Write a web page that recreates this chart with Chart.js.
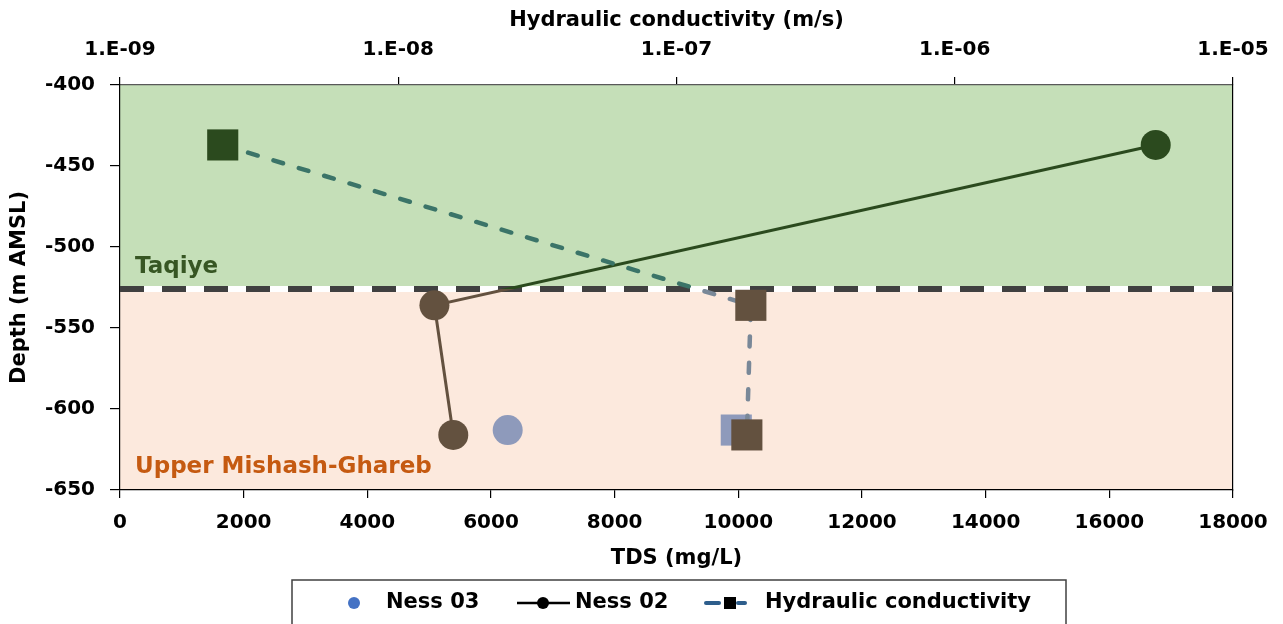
<!DOCTYPE html>
<html>
<head>
<meta charset="utf-8">
<script src="https://cdn.jsdelivr.net/npm/chart.js@4.4.1/dist/chart.umd.min.js"></script>
<style>
  html, body { margin: 0; padding: 0; background: #ffffff; }
  #wrap { width: 1283px; height: 624px; position: relative; }
</style>
</head>
<body>
<div id="wrap"><canvas id="chart" width="1283" height="624"></canvas></div>
<script>
// Well Ness 02: TDS profile with depth
const ness02Tds = [16750, 5085, 5390];
const ness02Depth = [-437, -536, -616];

// Well Ness 03: single TDS sample and its hydraulic conductivity
const ness03Tds = [6270];
const ness03Depth = [-613];
const ness03K = [1.64e-7];

// Hydraulic conductivity profile (m/s)
const kValues = [2.34e-9, 1.85e-7, 1.79e-7];
const kDepth = [-437, -536, -616];

// Formation boundary and axis ticks
const formations = ['Taqiye', 'Upper Mishash-Ghareb'];
const boundaryDepth = -526;
const depthRange = [-650, -400];
const tdsRange = [0, 18000];
const kTickValues = [1e-9, 1e-8, 1e-7, 1e-6, 1e-5];
const kTickLabels = ['1.E-09', '1.E-08', '1.E-07', '1.E-06', '1.E-05'];
const legendLabels = ['Ness 03', 'Ness 02', 'Hydraulic conductivity'];

const FONT = "'DejaVu Sans', 'Liberation Sans', sans-serif";
Chart.defaults.font.family = FONT;
Chart.defaults.color = '#000';

const C = {
  green: '#c5dfb8',
  salmon: '#fce9dd',
  darkGreen: '#2b4a1e',
  brown: '#63513f',
  kAbove: '#3b7468',
  kBelow: '#798898',
  ness03: '#8e9abb',
  boundary: '#404040',
  taqiyeText: '#375623',
  mishashText: '#c55a11'
};

const pts = (xs, ys) => xs.map((x, i) => ({ x: x, y: ys[i] }));

// Formation backgrounds (under the axes) and labels
const zonePlugin = {
  id: 'zones',
  beforeDraw(chart) {
    const { ctx, chartArea: a, scales } = chart;
    const y = scales.y;
    const yTop = y.getPixelForValue(depthRange[1]);
    const yB = y.getPixelForValue(boundaryDepth);
    const yBot = y.getPixelForValue(depthRange[0]);
    ctx.save();
    ctx.fillStyle = C.green;
    ctx.fillRect(a.left, yTop, a.right - a.left, yB - yTop);
    ctx.fillStyle = C.salmon;
    ctx.fillRect(a.left, yB, a.right - a.left, yBot - yB);
    ctx.restore();
  },
  beforeDatasetsDraw(chart) {
    const { ctx, chartArea: a, scales } = chart;
    const y = scales.y;
    const yB = y.getPixelForValue(boundaryDepth);
    const yBot = y.getPixelForValue(depthRange[0]);
    ctx.save();
    ctx.font = 'bold 23px ' + FONT;
    ctx.textBaseline = 'alphabetic';
    ctx.textAlign = 'left';
    ctx.fillStyle = C.taqiyeText;
    ctx.fillText(formations[0], a.left + 15, yB - 16);
    ctx.fillStyle = C.mishashText;
    ctx.fillText(formations[1], a.left + 15, yBot - 17);
    ctx.restore();
  }
};

// Colour each profile by formation: clip to the part above or below the boundary
const clipPlugin = {
  id: 'zoneClip',
  beforeDatasetDraw(chart, args) {
    const ds = chart.data.datasets[args.index];
    if (!ds.zone) return;
    const { ctx, chartArea: a } = chart;
    const yB = chart.scales.y.getPixelForValue(boundaryDepth);
    ctx.save();
    ctx.beginPath();
    if (ds.zone === 'above') ctx.rect(a.left - 30, a.top - 30, a.right - a.left + 60, yB - a.top + 30);
    else ctx.rect(a.left - 30, yB, a.right - a.left + 60, a.bottom - yB + 30);
    ctx.clip();
  },
  afterDatasetDraw(chart, args) {
    const ds = chart.data.datasets[args.index];
    if (!ds.zone) return;
    chart.ctx.restore();
  }
};

// Boxed legend below the plot
const legendPlugin = {
  id: 'boxLegend',
  afterDraw(chart) {
    const ctx = chart.ctx;
    const cy = 603;
    ctx.save();
    ctx.strokeStyle = '#404040';
    ctx.lineWidth = 1.5;
    ctx.strokeRect(292, 580, 774, 60);

    ctx.font = 'bold 21px ' + FONT;
    ctx.fillStyle = '#000';
    ctx.textBaseline = 'middle';
    ctx.textAlign = 'left';

    // Ness 03
    ctx.fillStyle = '#4472c4';
    ctx.beginPath(); ctx.arc(354, cy, 6, 0, Math.PI * 2); ctx.fill();
    ctx.fillStyle = '#000';
    ctx.fillText(legendLabels[0], 386, cy);

    // Ness 02
    ctx.strokeStyle = '#000';
    ctx.lineWidth = 2.5;
    ctx.beginPath(); ctx.moveTo(517, cy); ctx.lineTo(570, cy); ctx.stroke();
    ctx.beginPath(); ctx.arc(543, cy, 6, 0, Math.PI * 2); ctx.fill();
    ctx.fillText(legendLabels[1], 575, cy);

    // Hydraulic conductivity
    ctx.strokeStyle = '#2e5e8c';
    ctx.lineWidth = 4;
    ctx.lineCap = 'round';
    ctx.beginPath(); ctx.moveTo(706, cy); ctx.lineTo(719, cy); ctx.stroke();
    ctx.beginPath(); ctx.moveTo(738, cy); ctx.lineTo(745, cy); ctx.stroke();
    ctx.fillStyle = '#000';
    ctx.fillRect(724, cy - 6, 12, 12);
    ctx.fillText(legendLabels[2], 765, cy);
    ctx.restore();
  }
};

const tickFont = { family: FONT, size: 20, weight: 'bold' };
const titleFont = { family: FONT, size: 21, weight: 'bold' };

const noPad = (s) => { s.paddingLeft = 0; s.paddingRight = 0; s.paddingTop = 0; s.paddingBottom = 0; };

new Chart(document.getElementById('chart'), {
  type: 'scatter',
  data: {
    datasets: [
      {
        label: 'Hydraulic conductivity',
        zone: 'below',
        data: pts(kValues, kDepth),
        xAxisID: 'xTop', yAxisID: 'y',
        showLine: true,
        borderColor: C.kBelow, borderWidth: 4.5, borderDash: [10, 16.5], borderCapStyle: 'round',
        pointStyle: 'rect', pointRadius: 22, pointHoverRadius: 22,
        pointBackgroundColor: C.brown, pointBorderColor: C.brown, pointBorderWidth: 0
      },
      {
        label: 'Hydraulic conductivity',
        zone: 'above',
        data: pts(kValues, kDepth),
        xAxisID: 'xTop', yAxisID: 'y',
        showLine: true,
        borderColor: C.kAbove, borderWidth: 4.5, borderDash: [10, 16.5], borderCapStyle: 'round',
        pointStyle: 'rect', pointRadius: 22, pointHoverRadius: 22,
        pointBackgroundColor: C.darkGreen, pointBorderColor: C.darkGreen, pointBorderWidth: 0
      },
      {
        label: 'Ness 03',
        data: pts(ness03K, ness03Depth),
        xAxisID: 'xTop', yAxisID: 'y',
        pointStyle: 'rect', pointRadius: 22, pointHoverRadius: 22,
        pointBackgroundColor: C.ness03, pointBorderColor: C.ness03, pointBorderWidth: 0
      },
      {
        label: 'Ness 02',
        zone: 'above',
        data: pts(ness02Tds, ness02Depth),
        xAxisID: 'x', yAxisID: 'y',
        showLine: true,
        borderColor: C.darkGreen, borderWidth: 3,
        pointRadius: 15, pointHoverRadius: 15,
        pointBackgroundColor: C.darkGreen, pointBorderColor: C.darkGreen, pointBorderWidth: 0
      },
      {
        label: 'Ness 02',
        zone: 'below',
        data: pts(ness02Tds, ness02Depth),
        xAxisID: 'x', yAxisID: 'y',
        showLine: true,
        borderColor: C.brown, borderWidth: 3,
        pointRadius: 15, pointHoverRadius: 15,
        pointBackgroundColor: C.brown, pointBorderColor: C.brown, pointBorderWidth: 0
      },
      {
        label: 'Ness 03',
        data: pts(ness03Tds, ness03Depth),
        xAxisID: 'x', yAxisID: 'y',
        pointRadius: 15, pointHoverRadius: 15,
        pointBackgroundColor: C.ness03, pointBorderColor: C.ness03, pointBorderWidth: 0
      },
      {
        label: 'boundary',
        data: pts(tdsRange, [boundaryDepth, boundaryDepth]),
        xAxisID: 'x', yAxisID: 'y',
        showLine: true, pointRadius: 0,
        borderColor: C.boundary, borderWidth: 6, borderDash: [24, 18], borderCapStyle: 'butt'
      },
      {
        label: 'boundary-base',
        data: pts(tdsRange, [boundaryDepth, boundaryDepth]),
        xAxisID: 'x', yAxisID: 'y',
        showLine: true, pointRadius: 0,
        borderColor: '#ffffff', borderWidth: 6, borderCapStyle: 'butt'
      }
    ]
  },
  options: {
    responsive: false,
    animation: false,
    devicePixelRatio: 1,
    layout: { padding: { left: 0, right: 50, top: 0, bottom: 0 } },
    plugins: {
      legend: { display: false },
      tooltip: { enabled: false }
    },
    scales: {
      x: {
        type: 'linear', position: 'bottom',
        min: tdsRange[0], max: tdsRange[1],
        ticks: { stepSize: 2000, font: tickFont, color: '#000', padding: 13, maxRotation: 0, callback: (v) => String(v) },
        grid: { drawOnChartArea: false, drawTicks: true, tickLength: 8, color: '#000', lineWidth: 1.2 },
        border: { display: true, color: '#000', width: 1.2 },
        title: { display: true, text: 'TDS (mg/L)', font: titleFont, color: '#000', padding: { top: 0, bottom: 53 } },
        afterFit: (s) => { s.height = 134; noPad(s); }
      },
      xTop: {
        type: 'logarithmic', position: 'top',
        min: kTickValues[0], max: kTickValues[kTickValues.length - 1],
        afterBuildTicks: (s) => { s.ticks = kTickValues.map(v => ({ value: v, major: true })); },
        ticks: {
          font: tickFont, color: '#000', padding: 15, maxRotation: 0, autoSkip: false,
          callback: (v) => { const i = kTickValues.findIndex(t => Math.abs(Math.log10(t) - Math.log10(v)) < 1e-6); return i >= 0 ? kTickLabels[i] : ''; }
        },
        grid: { drawOnChartArea: false, drawTicks: true, tickLength: 8, color: '#000', lineWidth: 1.2 },
        border: { display: true, color: '#595959', width: 1.2 },
        title: { display: true, text: 'Hydraulic conductivity (m/s)', font: titleFont, color: '#000', padding: { top: 8, bottom: 0 } },
        afterFit: (s) => { s.height = 85; noPad(s); }
      },
      y: {
        type: 'linear', position: 'left',
        min: depthRange[0], max: depthRange[1],
        ticks: { stepSize: 50, font: tickFont, color: '#000', padding: 15 },
        grid: { drawOnChartArea: false, drawTicks: true, tickLength: 10, color: '#000', lineWidth: 1.2 },
        border: { display: true, color: '#000', width: 1.2 },
        title: { display: true, text: 'Depth (m AMSL)', font: titleFont, color: '#000', padding: { top: 7, bottom: 0 } },
        afterFit: (s) => { s.width = 120; noPad(s); }
      },
      yRight: {
        type: 'linear', position: 'right',
        min: depthRange[0], max: depthRange[1],
        ticks: { display: false },
        grid: { display: false },
        border: { display: true, color: '#000', width: 1.2 },
        afterFit: (s) => { s.width = 0; noPad(s); }
      }
    }
  },
  plugins: [zonePlugin, clipPlugin, legendPlugin]
});
</script>
</body>
</html>
